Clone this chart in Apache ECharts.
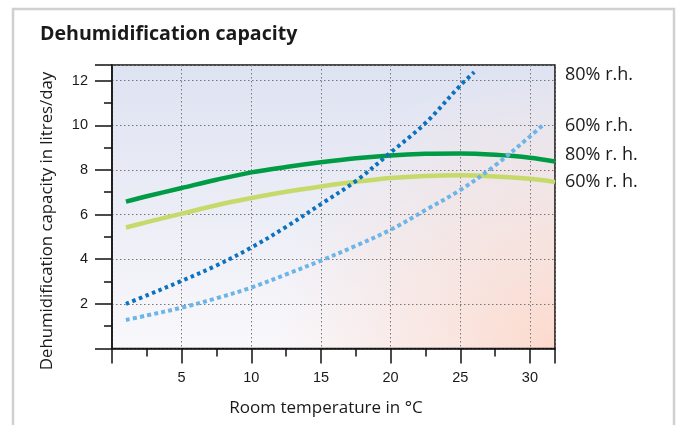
<!DOCTYPE html>
<html><head><meta charset="utf-8">
<script src="https://cdn.jsdelivr.net/npm/echarts@6/dist/echarts.min.js"></script>
<style>html,body{margin:0;padding:0;background:#fff}#c{width:681px;height:425px}</style>
</head><body><div id="c"></div>
<script>
const titleText = 'Dehumidification capacity';
const xName = 'Room temperature in °C';
const yName = 'Dehumidification capacity in litres/day';
const xTicks = [5, 10, 15, 20, 25, 30];
const yTicks = [2, 4, 6, 8, 10, 12];

const rh80DottedX = [1, 2.5, 5, 7.5, 10, 12.5, 15, 17.5, 20, 22.5, 25, 26];
const rh80DottedY = [2.0, 2.38, 3.03, 3.72, 4.52, 5.45, 6.47, 7.5, 8.78, 10.1, 11.78, 12.38];
const rh60DottedX = [1, 2.5, 5, 7.5, 10, 12.5, 15, 17.5, 20, 22.5, 25, 27.5, 30, 31];
const rh60DottedY = [1.28, 1.48, 1.83, 2.25, 2.73, 3.32, 3.94, 4.6, 5.32, 6.2, 7.1, 8.2, 9.5, 10.05];
const rh80SolidX = [1, 2.5, 5, 7.5, 10, 12.5, 15, 17.5, 20, 22.5, 25, 27.5, 30, 31.8];
const rh80SolidY = [6.58, 6.82, 7.19, 7.56, 7.89, 8.13, 8.34, 8.52, 8.65, 8.72, 8.74, 8.68, 8.55, 8.38];
const rh60SolidX = [1, 2.5, 5, 7.5, 10, 12.5, 15, 17.5, 20, 22.5, 25, 27.5, 30, 31.8];
const rh60SolidY = [5.42, 5.66, 6.04, 6.42, 6.74, 7.02, 7.26, 7.47, 7.64, 7.73, 7.76, 7.71, 7.6, 7.46];

const labels = ['80% r.h.', '60% r.h.', '80% r. h.', '60% r. h.'];
const labelY = [75, 126, 155, 182];

const G = { left: 112, top: 65, right: 126, bottom: 76.5 };
const W = 681, H = 425;
const gw = W - G.left - G.right, gh = H - G.top - G.bottom;

const zip = (xs, ys) => xs.map((x, i) => [x, ys[i]]);
const chart = echarts.init(document.getElementById('c'));
const sans = '"Open Sans", sans-serif';

chart.setOption({
  animation: false,
  graphic: [
    { type: 'rect', z: -100, shape: { x: 13, y: 9, width: 661, height: 440 },
      style: { fill: '#fff', stroke: '#d0d0d0', lineWidth: 2.5 } },
    { type: 'rect', z: -90, shape: { x: G.left, y: G.top, width: gw, height: gh },
      style: { fill: new echarts.graphic.LinearGradient(0, 0, 0, 1, [
        { offset: 0, color: '#dee3f2' }, { offset: 0.5, color: '#ebedf6' }, { offset: 1, color: '#f9f8fb' }]) } },
    { type: 'rect', z: -80, shape: { x: G.left, y: G.top, width: gw, height: gh },
      style: { fill: new echarts.graphic.RadialGradient(1, 1, 1, [
        { offset: 0, color: 'rgba(252,216,202,0.95)' }, { offset: 0.6, color: 'rgba(250,222,214,0.45)' },
        { offset: 1, color: 'rgba(250,225,220,0)' }]) } },
    { type: 'text', x: 40, y: 34, style: { text: titleText, font: 'bold 19.6px ' + sans, fill: '#1a1a1a', verticalAlign: 'middle' } },
    { type: 'text', x: 47, y: 221, rotation: Math.PI / 2,
      style: { text: yName, font: '16.8px ' + sans, fill: '#1a1a1a', align: 'center', verticalAlign: 'middle' } },
    { type: 'text', x: 326, y: 408,
      style: { text: xName, font: '17px ' + sans, fill: '#1a1a1a', align: 'center', verticalAlign: 'middle' } }
  ].concat(labels.map((t, i) => ({
    type: 'text', x: 565, y: labelY[i],
    style: { text: t, font: '18px ' + sans, fill: '#1a1a1a', verticalAlign: 'middle' }
  }))),
  grid: {
    left: G.left, right: G.right, top: G.top, bottom: G.bottom, show: true,
    borderColor: '#111', borderWidth: 1.5, backgroundColor: 'transparent'
  },
  xAxis: {
    type: 'value', min: 0, max: 31.8, interval: 5,
    axisLine: { show: true, lineStyle: { color: '#111', width: 1.5 } },
    axisTick: { show: true, length: 15, lineStyle: { color: '#111', width: 1.5 } },
    minorTick: { show: true, splitNumber: 2, length: 8, lineStyle: { color: '#111', width: 1.5 } },
    axisLabel: { margin: 22, fontSize: 14.5, fontFamily: 'Liberation Sans', color: '#1a1a1a',
      formatter: v => xTicks.includes(v) ? String(v) : '' },
    splitLine: { show: true, lineStyle: { color: '#777', type: [1.5, 2.5], width: 1 } }
  },
  yAxis: {
    type: 'value', min: 0, max: 12.7, interval: 2,
    axisLine: { show: true, lineStyle: { color: '#111', width: 1.5 } },
    axisTick: { show: true, length: 17, lineStyle: { color: '#111', width: 1.5 } },
    minorTick: { show: true, splitNumber: 2, length: 8, lineStyle: { color: '#111', width: 1.5 } },
    axisLabel: { margin: 24, fontSize: 14.5, fontFamily: 'Liberation Sans', color: '#1a1a1a',
      formatter: v => yTicks.includes(v) ? String(v) : '' },
    splitLine: { show: true, lineStyle: { color: '#777', type: [1.5, 2.5], width: 1 } }
  },
  series: [
    { type: 'line', data: zip(rh60SolidX, rh60SolidY), smooth: 0.35, symbol: 'none',
      lineStyle: { color: '#c6da6c', width: 4.5 } },
    { type: 'line', data: zip(rh80SolidX, rh80SolidY), smooth: 0.35, symbol: 'none',
      lineStyle: { color: '#009b45', width: 4.5 } },
    { type: 'line', data: zip(rh60DottedX, rh60DottedY), smooth: 0.35, symbol: 'none',
      lineStyle: { color: '#6cb5e8', width: 4, type: [4, 3.2] } },
    { type: 'line', data: zip(rh80DottedX, rh80DottedY), smooth: 0.35, symbol: 'none',
      lineStyle: { color: '#0a72c0', width: 4, type: [3.5, 3.5] } }
  ]
});
</script></body></html>
